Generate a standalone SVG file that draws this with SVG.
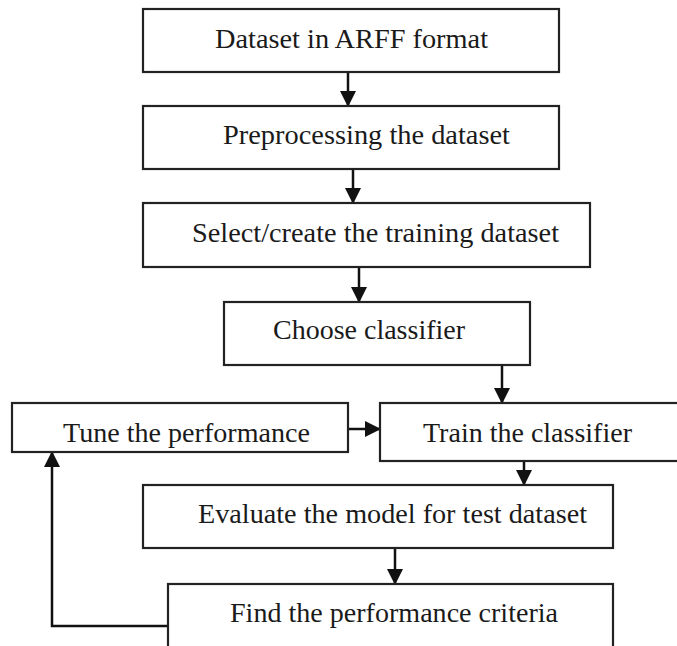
<svg xmlns="http://www.w3.org/2000/svg" width="677" height="646" viewBox="0 0 677 646">
<style>
.box{fill:#fff;stroke:#222;stroke-width:2.2}
.lbl{font-family:"Liberation Serif","Times New Roman",serif;font-size:27px;fill:#1a1a1a}
.con{fill:none;stroke:#111;stroke-width:2.5}
</style>
<defs>
<marker id="ah" markerUnits="userSpaceOnUse" markerWidth="16" markerHeight="16" viewBox="0 0 16 16" refX="15" refY="8" orient="auto">
<path d="M0,0 L16,8 L0,16 Z" fill="#111"/>
</marker>
</defs>
<rect width="677" height="646" fill="#fff"/>
<g id="connectors">
<line class="con" x1="348" y1="72" x2="348" y2="106" marker-end="url(#ah)"/>
<line class="con" x1="353" y1="169" x2="353" y2="203" marker-end="url(#ah)"/>
<line class="con" x1="359" y1="267" x2="359" y2="302" marker-end="url(#ah)"/>
<line class="con" x1="502" y1="365" x2="502" y2="403" marker-end="url(#ah)"/>
<line class="con" x1="348" y1="429" x2="380" y2="429" marker-end="url(#ah)"/>
<line class="con" x1="524" y1="461" x2="524" y2="485" marker-end="url(#ah)"/>
<line class="con" x1="395" y1="548" x2="395" y2="584" marker-end="url(#ah)"/>
<polyline class="con" points="168,626 52,626 52,452" marker-end="url(#ah)"/>
</g>
<g id="n1">
<rect class="box" x="143" y="9" width="416" height="63"/>
<text class="lbl" x="215" y="48" textLength="273" lengthAdjust="spacingAndGlyphs">Dataset in ARFF format</text>
</g>
<g id="n2">
<rect class="box" x="143" y="106" width="416" height="63"/>
<text class="lbl" x="223" y="144" textLength="287" lengthAdjust="spacingAndGlyphs">Preprocessing the dataset</text>
</g>
<g id="n3">
<rect class="box" x="143" y="203" width="447" height="64"/>
<text class="lbl" x="192" y="242" textLength="367" lengthAdjust="spacingAndGlyphs">Select/create the training dataset</text>
</g>
<g id="n4">
<rect class="box" x="224" y="302" width="306" height="63"/>
<text class="lbl" x="273" y="339" textLength="192" lengthAdjust="spacingAndGlyphs">Choose classifier</text>
</g>
<g id="n5">
<rect class="box" x="12" y="403" width="336" height="49"/>
<text class="lbl" x="63" y="442" textLength="247" lengthAdjust="spacingAndGlyphs">Tune the performance</text>
</g>
<g id="n6">
<rect class="box" x="380" y="403" width="310" height="58"/>
<text class="lbl" x="423" y="442" textLength="209" lengthAdjust="spacingAndGlyphs">Train the classifier</text>
</g>
<g id="n7">
<rect class="box" x="143" y="485" width="470" height="63"/>
<text class="lbl" x="198" y="523" textLength="389" lengthAdjust="spacingAndGlyphs">Evaluate the model for test dataset</text>
</g>
<g id="n8">
<rect class="box" x="168" y="584" width="445" height="70"/>
<text class="lbl" x="230" y="622" textLength="328" lengthAdjust="spacingAndGlyphs">Find the performance criteria</text>
</g>
</svg>
